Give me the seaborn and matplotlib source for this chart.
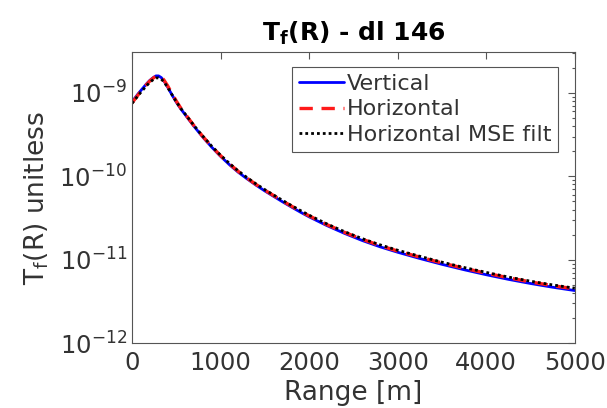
import matplotlib

matplotlib.use("Agg")
import matplotlib.pyplot as plt
import seaborn as sns

# Range axis [m]
range_m = [0, 40, 80, 120, 160, 200, 240, 270, 300, 330, 360, 400, 450, 500, 550,
           600, 700, 800, 900, 1000, 1100, 1200, 1300, 1400, 1500, 1600, 1700, 1800,
           1900, 2000, 2200, 2400, 2600, 2800, 3000, 3250, 3500, 3750, 4000, 4250,
           4500, 4750, 5000]

# T_f(R) values
vertical = [7.85e-10, 8.91e-10, 1.012e-9, 1.135e-9, 1.274e-9, 1.413e-9, 1.531e-9,
            1.603e-9, 1.603e-9, 1.531e-9, 1.396e-9, 1.189e-9, 9.55e-10, 7.76e-10,
            6.46e-10, 5.50e-10, 3.98e-10, 2.95e-10, 2.24e-10, 1.74e-10, 1.38e-10,
            1.12e-10, 9.33e-11, 7.85e-11, 6.68e-11, 5.75e-11, 4.95e-11, 4.29e-11,
            3.73e-11, 3.27e-11, 2.57e-11, 2.07e-11, 1.70e-11, 1.43e-11, 1.23e-11,
            1.035e-11, 8.81e-12, 7.59e-12, 6.61e-12, 5.82e-12, 5.19e-12, 4.68e-12,
            4.27e-12]
horizontal = [7.6e-10, 8.65e-10, 9.85e-10, 1.11e-9, 1.25e-9, 1.39e-9, 1.51e-9,
              1.59e-9, 1.61e-9, 1.56e-9, 1.43e-9, 1.23e-9, 9.9e-10, 8.0e-10,
              6.6e-10, 5.6e-10, 4.05e-10, 3.0e-10, 2.28e-10, 1.77e-10, 1.41e-10,
              1.145e-10, 9.5e-11, 8.0e-11, 6.82e-11, 5.88e-11, 5.07e-11, 4.4e-11,
              3.83e-11, 3.36e-11, 2.64e-11, 2.13e-11, 1.76e-11, 1.48e-11, 1.27e-11,
              1.075e-11, 9.15e-12, 7.9e-12, 6.9e-12, 6.08e-12, 5.42e-12, 4.89e-12,
              4.47e-12]
horizontal_mse = [7.5e-10, 8.5e-10, 9.65e-10, 1.08e-9, 1.21e-9, 1.34e-9, 1.45e-9,
                  1.51e-9, 1.52e-9, 1.47e-9, 1.36e-9, 1.18e-9, 9.6e-10, 7.85e-10,
                  6.55e-10, 5.6e-10, 4.07e-10, 3.03e-10, 2.3e-10, 1.79e-10, 1.43e-10,
                  1.16e-10, 9.65e-11, 8.12e-11, 6.93e-11, 5.97e-11, 5.15e-11, 4.47e-11,
                  3.9e-11, 3.42e-11, 2.69e-11, 2.17e-11, 1.79e-11, 1.51e-11, 1.3e-11,
                  1.1e-11, 9.35e-12, 8.07e-12, 7.05e-12, 6.2e-12, 5.53e-12, 4.99e-12,
                  4.56e-12]

series_labels = ["Vertical", "Horizontal", "Horizontal MSE filt"]

sns.set_style("white")
plt.rcParams["font.family"] = ["DejaVu Sans"]
plt.rcParams["mathtext.fontset"] = "dejavusans"

text_col = "#333333"
axis_col = "#555555"

fig = plt.figure(figsize=(6.07, 4.08), dpi=100)
ax = fig.add_axes([0.2175, 0.159, 0.7295, 0.7135])

sns.lineplot(x=range_m, y=vertical, ax=ax, color="#0000ff", linewidth=2.0,
             label=series_labels[0])
sns.lineplot(x=range_m, y=horizontal, ax=ax, color="#ff1a1a", linewidth=2.4,
             linestyle=(0, (4, 2.6)), label=series_labels[1])
sns.lineplot(x=range_m, y=horizontal_mse, ax=ax, color="black", linewidth=2.0,
             linestyle=(0, (1, 1.1)), label=series_labels[2])

ax.set_yscale("log")
ax.set_xlim(0, 5000)
ax.set_ylim(1e-12, 3.1e-9)
ax.set_xticks([0, 1000, 2000, 3000, 4000, 5000])
ax.set_yticks([1e-12, 1e-11, 1e-10, 1e-9])

ax.tick_params(axis="both", which="both", direction="in", top=True, right=True,
               colors=axis_col, labelcolor=text_col, labelsize=17.5, width=0.8)
ax.tick_params(axis="both", which="major", length=5)
ax.tick_params(axis="y", which="minor", length=2.5)
ax.tick_params(axis="x", which="major", pad=6)
for spine in ax.spines.values():
    spine.set_color(axis_col)
    spine.set_linewidth(0.8)

ax.set_xlabel("Range [m]", fontsize=19, color=text_col, labelpad=3)
ax.set_ylabel(r"T$_\mathregular{f}$(R) unitless", fontsize=19, color=text_col,
              labelpad=6)
ax.set_title(r"T$_\mathbf{f}$(R) - dl 146", fontsize=18, fontweight="bold",
             color="black", pad=8)

leg = ax.legend(loc="upper right", bbox_to_anchor=(0.962, 0.948),
                borderaxespad=0, fancybox=False, framealpha=1,
                edgecolor=axis_col, fontsize=16, handlelength=2.0,
                handletextpad=0.15, labelspacing=0.25, borderpad=0.3)
leg.get_frame().set_linewidth(0.8)
for txt in leg.get_texts():
    txt.set_color(text_col)

fig.savefig("out.png", dpi=100)
